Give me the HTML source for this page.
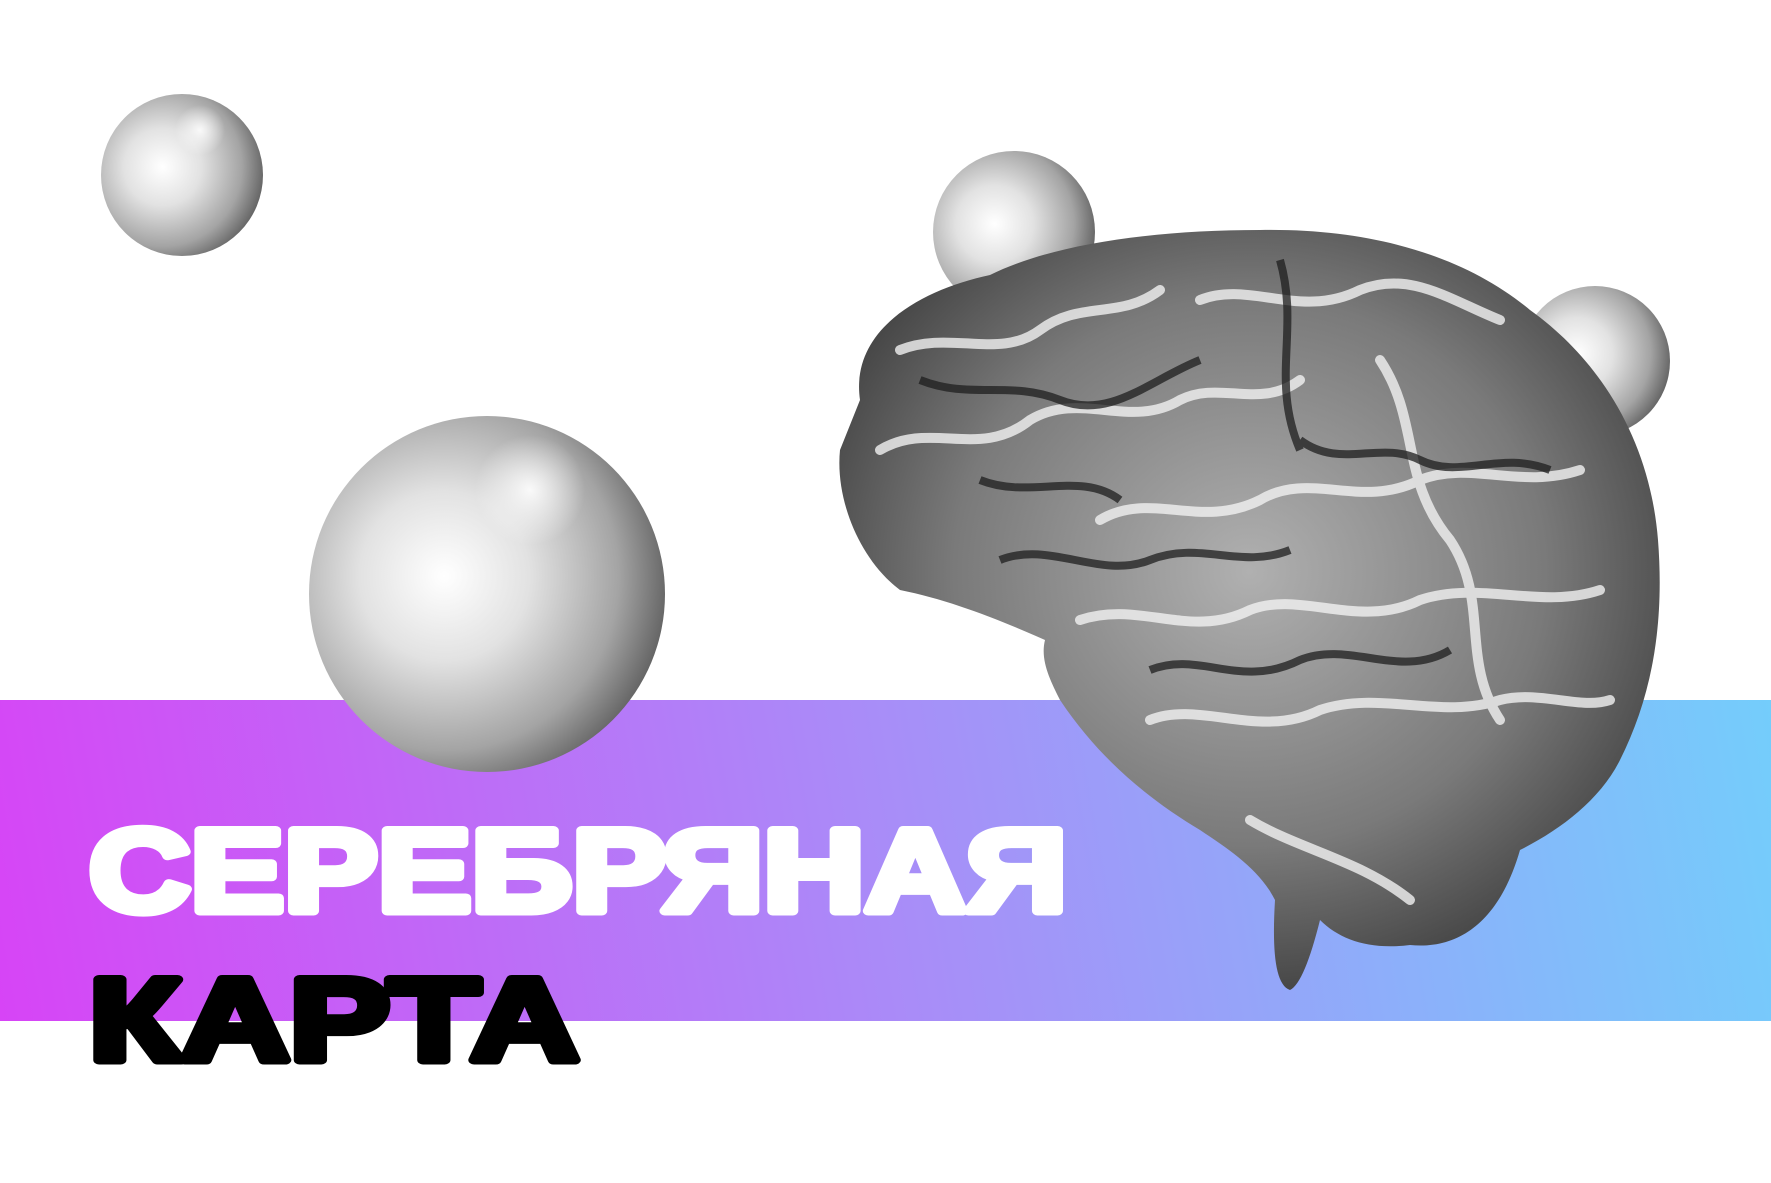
<!DOCTYPE html>
<html><head><meta charset="utf-8"><style>
html,body{margin:0;padding:0;background:#fff;}
svg{display:block;}
text{font-family:"Liberation Sans","DejaVu Sans",sans-serif;font-weight:bold;}
</style></head><body>
<svg width="1771" height="1183" viewBox="0 0 1771 1183">
<defs>
<linearGradient id="band" gradientUnits="userSpaceOnUse" x1="0" y1="1020" x2="1771" y2="700">
<stop offset="0" stop-color="#d744f6"/><stop offset="0.5" stop-color="#a98cf8"/><stop offset="1" stop-color="#74cdfb"/>
</linearGradient>
<radialGradient id="sph" cx="0.38" cy="0.45" r="0.68">
<stop offset="0" stop-color="#ffffff"/><stop offset="0.35" stop-color="#e2e2e2"/><stop offset="0.72" stop-color="#a4a4a4"/><stop offset="1" stop-color="#4f4f4f"/>
</radialGradient>
<radialGradient id="hl" cx="0.5" cy="0.5" r="0.5">
<stop offset="0" stop-color="#fff" stop-opacity="0.9"/><stop offset="1" stop-color="#fff" stop-opacity="0"/>
</radialGradient>
<radialGradient id="brain" cx="0.5" cy="0.45" r="0.6">
<stop offset="0" stop-color="#b0b0b0"/><stop offset="0.6" stop-color="#7a7a7a"/><stop offset="1" stop-color="#3a3a3a"/>
</radialGradient>
</defs>
<rect x="0" y="700" width="1771" height="321" fill="url(#band)"/>
<g><circle cx="182" cy="175" r="81" fill="url(#sph)"/><circle cx="200" cy="130" r="25" fill="url(#hl)"/></g>
<g><circle cx="487" cy="594" r="178" fill="url(#sph)"/><circle cx="530" cy="490" r="55" fill="url(#hl)"/></g>
<g><circle cx="1014" cy="232" r="81" fill="url(#sph)"/></g>
<g><circle cx="1595" cy="361" r="75" fill="url(#sph)"/></g>
<g>
<path d="M860,400 C850,330 920,290 990,275 C1050,245 1150,230 1260,230 C1380,228 1470,260 1530,310 C1600,360 1650,440 1658,540 C1665,630 1650,700 1620,760 C1600,800 1560,830 1520,850 C1500,920 1460,950 1410,945 C1370,950 1340,940 1320,920 C1310,960 1300,985 1290,990 C1275,985 1272,950 1275,900 C1260,870 1230,850 1200,830 C1150,800 1100,760 1060,700 C1050,680 1040,660 1045,640 C1000,620 950,600 900,590 C860,560 835,500 840,450 Z" fill="url(#brain)"/>
<g fill="none" stroke="#f2f2f2" stroke-width="10" stroke-linecap="round" opacity="0.8">
<path d="M900,350 C950,330 1000,360 1040,330 C1080,300 1120,320 1160,290"/>
<path d="M880,450 C930,420 980,460 1030,420 C1080,390 1130,430 1180,400 C1220,380 1260,410 1300,380"/>
<path d="M1200,300 C1250,280 1300,320 1360,290 C1410,270 1450,300 1500,320"/>
<path d="M1100,520 C1150,490 1200,530 1260,500 C1310,470 1360,510 1420,480 C1470,460 1520,490 1580,470"/>
<path d="M1080,620 C1140,600 1190,640 1250,610 C1300,590 1360,630 1420,600 C1480,580 1540,610 1600,590"/>
<path d="M1150,720 C1200,700 1260,740 1320,710 C1380,690 1440,720 1500,700 C1540,690 1580,710 1610,700"/>
<path d="M1380,360 C1420,420 1400,480 1450,540 C1490,600 1460,660 1500,720"/>
<path d="M1250,820 C1300,850 1360,860 1410,900"/>
</g>
<g fill="none" stroke="#1e1e1e" stroke-width="8" opacity="0.75">
<path d="M920,380 C970,400 1010,380 1060,400 C1110,420 1150,380 1200,360"/>
<path d="M1000,560 C1050,540 1100,580 1150,560 C1200,540 1240,570 1290,550"/>
<path d="M1300,440 C1340,470 1380,440 1420,460 C1460,480 1500,450 1550,470"/>
<path d="M1150,670 C1200,650 1240,690 1300,660 C1350,640 1400,680 1450,650"/>
<path d="M1280,260 C1300,330 1270,380 1300,450"/>
<path d="M980,480 C1030,500 1080,470 1120,500"/>
</g>
</g>
<text x="89" y="911" font-size="117" fill="#ffffff" stroke="#ffffff" stroke-width="9" stroke-linejoin="round" textLength="978" lengthAdjust="spacingAndGlyphs">СЕРЕБРЯНАЯ</text>
<text x="89" y="1060" font-size="117" fill="#000000" stroke="#000000" stroke-width="9" stroke-linejoin="round" textLength="490" lengthAdjust="spacingAndGlyphs">КАРТА</text>
</svg>
</body></html>
